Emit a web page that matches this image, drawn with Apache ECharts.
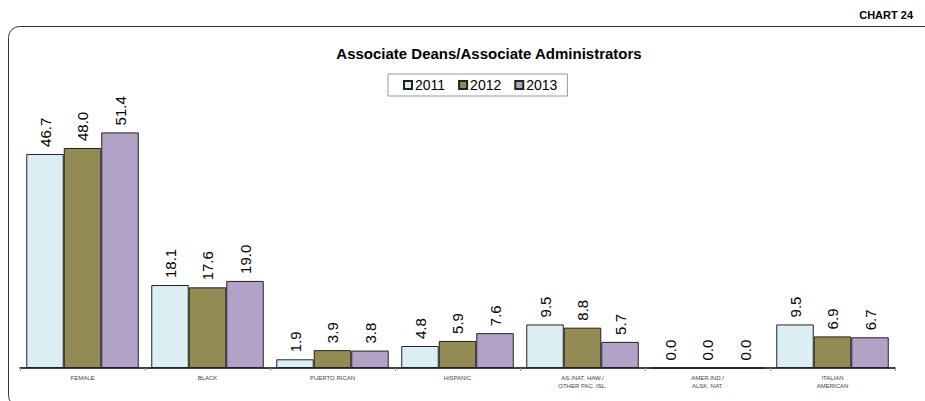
<!DOCTYPE html>
<html>
<head>
<meta charset="utf-8">
<script src="https://cdn.jsdelivr.net/npm/echarts@6/dist/echarts.min.js"></script>
<style>
  html, body { margin: 0; padding: 0; background: #fff; }
  #chart { width: 925px; height: 401px; }
</style>
</head>
<body>
<div id="chart"></div>
<script>
const categories = ['FEMALE', 'BLACK', 'PUERTO RICAN', 'HISPANIC', 'AS./NAT. HAW./\nOTHER PAC. ISL.', 'AMER.IND./\nALSK. NAT.', 'ITALIAN\nAMERICAN'];
const years = ['2011', '2012', '2013'];
const values2011 = [46.7, 18.1, 1.9, 4.8, 9.5, 0.0, 9.5];
const values2012 = [48.0, 17.6, 3.9, 5.9, 8.8, 0.0, 6.9];
const values2013 = [51.4, 19.0, 3.8, 7.6, 5.7, 0.0, 6.7];
const colors = ['#dbeef4', '#948a54', '#b3a2c7'];

const myChart = echarts.init(document.getElementById('chart'), null, { renderer: 'svg' });

// 每个年份一个系列
const makeSeries = (name, data, color) => ({
  name: name,
  type: 'bar',
  data: data,
  barGap: '0%',
  barCategoryGap: '10%',
  itemStyle: { color: color, borderColor: '#222', borderWidth: 1 },
  label: {
    show: true,
    position: 'top',
    rotate: 90,
    align: 'left',
    verticalAlign: 'middle',
    distance: 7,
    color: '#000',
    fontFamily: 'Arial, "Liberation Sans", sans-serif',
    fontSize: 15,
    formatter: (p) => p.value.toFixed(1)
  }
});

const option = {
  animation: false,
  title: [
    {
      text: 'CHART 24',
      right: 7,
      top: 4,
      textStyle: { fontSize: 11, fontWeight: 'bold', color: '#000', fontFamily: 'Arial, "Liberation Sans", sans-serif' }
    },
    {
      text: 'Associate Deans/Associate Administrators',
      left: 484,
      top: 41,
      textAlign: 'center',
      textStyle: { fontSize: 15, fontWeight: 'bold', color: '#000', fontFamily: 'Arial, "Liberation Sans", sans-serif' }
    }
  ],
  legend: {
    data: years,
    left: 388,
    top: 74,
    orient: 'horizontal',
    itemWidth: 8,
    itemHeight: 8,
    itemGap: 13,
    padding: [4, 10, 4, 15],
    borderColor: '#999',
    borderWidth: 1,
    icon: 'rect',
    textStyle: { fontSize: 14, color: '#000', padding: [0, 0, 0, -2], fontFamily: 'Arial, "Liberation Sans", sans-serif' }
  },
  grid: { left: 20, right: 30, top: 93, bottom: 33, containLabel: false },
  xAxis: {
    type: 'category',
    data: categories,
    axisLine: { lineStyle: { color: '#000', width: 1.5 } },
    axisTick: { show: true, length: 3, lineStyle: { color: '#999' } },
    axisLabel: {
      interval: 0,
      margin: 6,
      color: '#444',
      fontSize: 6,
      lineHeight: 8,
      fontFamily: '"Liberation Sans Narrow", Arial, sans-serif'
    }
  },
  yAxis: {
    type: 'value',
    min: 0,
    max: 60,
    show: false,
    splitLine: { show: false }
  },
  graphic: [
    {
      type: 'rect',
      shape: { x: 8.5, y: 26.5, width: 940, height: 380, r: 11 },
      style: { fill: 'none', stroke: '#333', lineWidth: 1 },
      silent: true,
      z: -1
    }
  ],
  series: [
    makeSeries(years[0], values2011, colors[0]),
    makeSeries(years[1], values2012, colors[1]),
    makeSeries(years[2], values2013, colors[2])
  ]
};

myChart.setOption(option);
</script>
</body>
</html>
